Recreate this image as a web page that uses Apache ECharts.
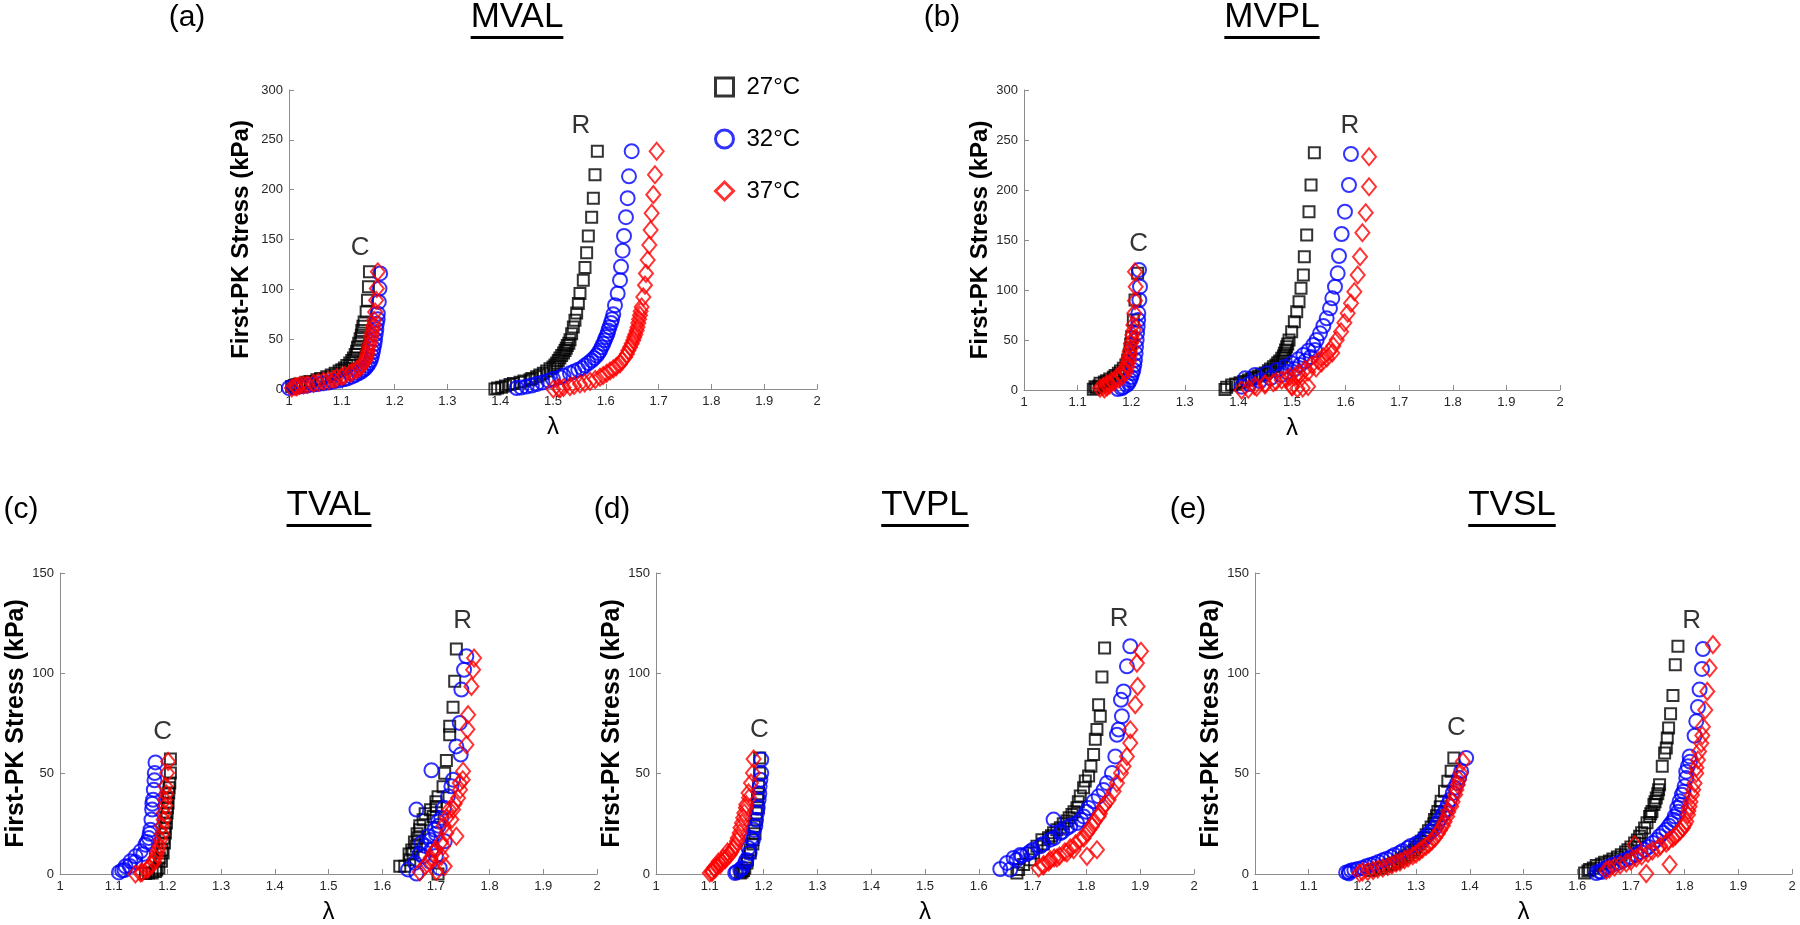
<!DOCTYPE html>
<html>
<head>
<meta charset="utf-8">
<script src="https://cdn.jsdelivr.net/npm/echarts@6/dist/echarts.min.js"></script>
<style>
  html, body { margin: 0; background: #fff; }
  #chart { width: 1800px; height: 925px; }
</style>
</head>
<body>
<div id="chart"></div>
<script>
// ---- data (lambda, first-PK stress kPa) ----
const temps = ['27°C', '32°C', '37°C']
const panelTags = ['(a)', '(b)', '(c)', '(d)', '(e)']
const panelTitles = ['MVAL', 'MVPL', 'TVAL', 'TVPL', 'TVSL']
const curveTags = ['C', 'R']
const xTickMin = 1, xTickMax = 2, xTickStep = 0.1
const yTickMax = [300, 300, 150, 150, 150]
const yTickStep = 50

const mval27 = [[1.1524,117.6],[1.1505,102.5],[1.1486,89],[1.1461,77.3],[1.1423,67.2],[1.1379,58.8],[1.1347,50.4],[1.1297,42],[1.1253,34.6],[1.1189,28.6],[1.1095,23.5],[1.1,19.2],[1.0874,15.8],[1.0716,12.4],[1.0527,9.4],[1.0337,6.7],[1.0148,4.4],[1.005,2.4],
  [1.01,3.5],[1.02,5],[1.04,7.5],[1.06,10.5],[1.08,14],[1.095,18],[1.105,21],[1.115,26],[1.122,31],[1.128,38],[1.132,46],[1.137,54],[1.14,63],
  [1.584,238.6],[1.5795,215],[1.5764,191.5],[1.5732,172.4],[1.5669,153.6],[1.5637,136.8],[1.5606,122],[1.5574,109.2],[1.5511,95.8],[1.548,85.7],[1.5448,76.3],[1.5416,68.9],[1.5385,62.2],[1.5353,55.4],[1.5322,49.4],[1.5271,43.7],[1.5227,38.6],[1.5164,33.6],[1.51,28.6],[1.5037,24.2],[1.4943,20.2],[1.4817,15.8],[1.4691,12.4],[1.4564,9.4],[1.4375,6.7],[1.4186,4.4],[1.4028,1.7],[1.39,0],
  [1.395,1],[1.41,3],[1.425,5.5],[1.445,8],[1.46,10.5],[1.475,14],[1.488,18],[1.5,22],[1.507,26],[1.513,31],[1.52,36],[1.525,41],[1.53,46]]
const mval32 = [[1.1726,116],[1.1713,100.8],[1.1701,87.4],[1.1682,75.6],[1.1663,65.5],[1.1644,55.4],[1.1619,45.4],[1.1587,37],[1.1549,29.2],[1.1486,23.5],[1.141,19.2],[1.1316,15.8],[1.1189,12.4],[1.1032,9.7],[1.0842,7.4],[1.0653,5.7],[1.0463,4.4],[1.0274,3],[1.0085,1.7],[1.0,1],
  [1.01,2],[1.02,2.5],[1.035,3.5],[1.055,5],[1.075,6.5],[1.095,8.5],[1.11,10.5],[1.125,14],[1.137,17.5],[1.145,21],[1.152,26],[1.157,33],[1.16,41],[1.163,50],[1.1655,60],[1.168,70],
  [1.649,238.6],[1.6439,213.4],[1.6414,191.5],[1.6382,172.4],[1.6345,153.6],[1.6319,138.8],[1.6288,122.6],[1.6269,109.2],[1.6225,95.8],[1.6174,84],[1.6142,74.9],[1.6098,66.2],[1.6048,58.8],[1.6004,52.1],[1.5953,45.4],[1.589,38.6],[1.5827,33.6],[1.5732,28.6],[1.5605,23.5],[1.5479,19.2],[1.5322,15.8],[1.5132,11.8],[1.4911,8.4],[1.4691,5],[1.4501,2.4],[1.4312,1],
  [1.44,1.5],[1.46,3.5],[1.48,6.5],[1.5,10],[1.52,13.5],[1.54,17.5],[1.555,21],[1.567,26],[1.578,31],[1.586,36],[1.592,42],[1.598,49],[1.603,55],[1.607,62],[1.612,70]]
const mval37 = [[1.1682,117.6],[1.1663,100.8],[1.165,89],[1.1631,77.3],[1.1612,68.9],[1.1587,60.5],[1.1556,52.1],[1.1524,43.7],[1.1486,35.3],[1.1442,28.6],[1.1379,23.5],[1.1284,19.2],[1.1158,15.8],[1.1,12.4],[1.0842,9.7],[1.0653,7.7],[1.0463,5.7],[1.0274,4],[1.0116,2.4],[1.0053,1],
  [1.015,2],[1.02,3.5],[1.035,4.5],[1.055,6.5],[1.075,8.5],[1.09,11],[1.105,13.5],[1.12,17],[1.133,21],[1.141,26],[1.147,32],[1.15,39],[1.154,47],[1.157,56],[1.16,64],
  [1.6963,238.6],[1.6931,215],[1.69,195],[1.6868,176.4],[1.6849,159.6],[1.6824,144.5],[1.6793,129.4],[1.6761,116],[1.6742,104.2],[1.6711,92.4],[1.6679,82.3],[1.6647,73.9],[1.6616,66.2],[1.6584,58.8],[1.654,52.1],[1.649,45.4],[1.6427,38.6],[1.6364,31.9],[1.6269,25.2],[1.6143,20.2],[1.6017,15.8],[1.589,11.8],[1.5701,7.7],[1.5511,5],[1.5322,2.4],[1.5132,0],[1.5006,0],
  [1.51,1],[1.52,1.5],[1.54,3.5],[1.56,6],[1.58,9.5],[1.595,13.5],[1.608,18],[1.62,22.5],[1.631,28.5],[1.64,35],[1.646,42],[1.652,49],[1.656,55],[1.66,62],[1.663,70],[1.666,78]]

const mvpl27 = [[1.212,116.7],[1.2071,90],[1.204,70],[1.2009,53.3],[1.1978,40],[1.1934,30],[1.1853,21.7],[1.176,16.7],[1.1667,12.7],[1.1542,9.3],[1.1418,6.7],[1.1324,3.3],[1.1293,0.7],
  [1.135,2],[1.14,4],[1.15,8],[1.16,11],[1.17,14.5],[1.18,19],[1.19,25],[1.196,35],[1.199,46],
  [1.5417,237.3],[1.5355,205],[1.5317,178.3],[1.5274,155],[1.523,133.3],[1.5212,115],[1.5168,101.7],[1.5131,88.3],[1.5088,78.3],[1.5044,68.3],[1.4994,58.3],[1.4945,50],[1.4901,43.3],[1.4858,36.7],[1.4808,31.7],[1.4734,27.3],[1.4653,23.3],[1.4559,19.3],[1.4435,15.7],[1.431,12.7],[1.4187,10],[1.403,7.3],[1.3874,5],[1.3781,2.7],[1.375,0.5],
  [1.395,6],[1.41,8.5],[1.425,11.5],[1.438,14],[1.45,17],[1.46,21],[1.47,25],[1.477,29],[1.484,34],[1.488,40],[1.492,46]]
const mvpl32 = [[1.2146,120],[1.2164,103.3],[1.2152,90],[1.2133,76.7],[1.2121,63.3],[1.2102,50],[1.2083,36.7],[1.2058,25],[1.2021,16.7],[1.1978,10],[1.1916,5],[1.1822,1.7],
  [1.175,1],[1.185,3],[1.195,7],[1.2,13],[1.204,20],[1.207,30],[1.209,43],[1.211,57],[1.213,70],
  [1.61,236],[1.6063,205],[1.5988,178.3],[1.5926,156],[1.5877,134],[1.5852,116.7],[1.5802,103.3],[1.5752,91.7],[1.5709,81.7],[1.5647,71.7],[1.5585,64],[1.5522,56.7],[1.546,50],[1.5398,45],[1.5305,39.3],[1.5212,35],[1.5118,30.7],[1.4994,26.7],[1.487,23.3],[1.4714,20],[1.4527,16.7],[1.431,15],[1.4125,11.7],[1.4062,3.3],
  [1.42,6],[1.44,9],[1.46,12],[1.48,15],[1.49,18],[1.505,21],[1.515,25],[1.525,29],[1.535,33],[1.543,40]]
const mvpl37 = [[1.2071,118.3],[1.2083,103.3],[1.2071,89.3],[1.2058,76.7],[1.204,65],[1.2021,55],[1.1996,46.7],[1.1971,38.3],[1.1947,31.7],[1.1915,26],[1.1872,20.7],[1.181,16.7],[1.1729,12.7],[1.1636,9.3],[1.1542,6],[1.148,3.3],[1.1418,1.7],
  [1.15,1],[1.155,3],[1.16,5],[1.168,8],[1.177,11],[1.184,14],[1.19,18],[1.193,23],[1.196,29],[1.198,35],[1.2,42],[1.203,50],[1.205,60],
  [1.6437,233.3],[1.6437,203.3],[1.6375,177.3],[1.6313,157.3],[1.6269,133.3],[1.6225,115],[1.6163,98.3],[1.6101,86.7],[1.6039,76.7],[1.5977,67.3],[1.5915,58.3],[1.5834,50],[1.5771,44],[1.569,38.3],[1.5585,33.3],[1.5491,29.3],[1.5367,25],[1.5243,20.7],[1.5118,16.7],[1.4963,13.3],[1.4807,10],[1.4652,7.3],[1.4496,5],[1.4341,2.7],[1.4185,0.7],[1.406,0],[1.52,2],[1.5,4],
  [1.43,4],[1.45,6.5],[1.47,8.5],[1.49,11],[1.505,13],[1.515,15],[1.53,18],[1.545,22],[1.555,27],[1.565,32],[1.575,37],[1.5,3],[1.51,1.5],[1.53,3.5]]

const tval27 = [[1.2056,57.3],[1.2056,50.3],[1.2044,45.3],[1.2025,40.4],[1.2013,35.4],[1.1994,30.4],[1.1982,25.4],[1.1963,20.4],[1.1945,15.4],[1.192,10.5],[1.1889,6.3],[1.184,3],[1.1777,1.3],[1.1716,0.5],[1.159,0.2],
  [1.185,8],[1.19,12],[1.193,18],[1.195,23],[1.197,28],[1.2,33],[1.2,38],[1.203,43],[1.18,2],[1.165,0.5],
  [1.7381,112.1],[1.735,96],[1.7319,83.1],[1.7257,73.6],[1.7257,69.4],[1.7195,56.6],[1.7164,50.2],[1.7133,43.5],[1.704,38.5],[1.7009,33.7],[1.6947,28.7],[1.6761,27],[1.6699,22],[1.6668,17.9],[1.6637,13.8],[1.6575,10.5],[1.6513,7.1],[1.642,3.8],[1.6327,3.8],[1.704,0],
  [1.65,10],[1.655,12],[1.66,16],[1.665,20],[1.67,24],[1.68,30],[1.69,32],[1.7,36]]
const tval32 = [[1.1778,55.6],[1.1765,50.3],[1.1759,46.7],[1.1747,42],[1.1734,37],[1.1716,32.1],[1.1703,27.1],[1.1685,22.1],[1.1654,17.9],[1.1592,14.6],[1.15,11.3],[1.1406,8.8],[1.1313,6.3],[1.122,3.8],[1.1158,1.8],[1.1097,0.8],
  [1.12,2],[1.13,4],[1.14,6],[1.155,10],[1.162,16],[1.167,20],[1.172,35],
  [1.7567,108.5],[1.7524,101.8],[1.7474,91.9],[1.7443,75.3],[1.7381,63.6],[1.7462,59.5],[1.6917,51.7],[1.7319,47],[1.7288,43.7],[1.7226,38.7],[1.6638,32.1],[1.704,26.2],[1.6978,22.1],[1.6854,18.8],[1.6731,15.4],[1.7164,16.3],[1.6917,12.1],[1.6762,8.8],[1.6607,5.5],[1.6483,2.2],[1.6638,0.2],[1.7071,3],
  [1.67,10],[1.68,14],[1.69,17],[1.7,20],[1.705,24],[1.71,28],[1.715,33],[1.69,6],[1.7,9]]
const tval37 = [[1.2013,56.1],[1.1994,50.3],[1.1963,43.7],[1.1951,37],[1.1932,30.4],[1.1901,23.8],[1.187,17.1],[1.1827,12.1],[1.1777,8],[1.1715,4.7],[1.1622,2.2],[1.1529,0.8],[1.1405,0],
  [1.15,0.5],[1.165,3],[1.175,6],[1.18,10],[1.185,14],[1.19,20],[1.193,27],[1.196,34],[1.198,40],
  [1.7711,107.6],[1.7693,101.8],[1.7662,93.5],[1.76,79.4],[1.7587,72.1],[1.7568,64.4],[1.7506,51.2],[1.7444,45.3],[1.7413,37.9],[1.7319,32.1],[1.7288,27.1],[1.7381,18.8],[1.7195,20.4],[1.7133,13.8],[1.7102,8.8],[1.7164,3.8],[1.7009,1.3],[1.6947,10.5],[1.6885,6.3],
  [1.67,1],[1.68,4],[1.69,8],[1.7,12],[1.71,16],[1.715,24],[1.72,28],[1.725,32],[1.735,35],[1.745,42],[1.75,47]]

const tvpl27 = [[1.1926,57.8],[1.1926,50.3],[1.1907,43.7],[1.1888,37],[1.1864,30.4],[1.1827,23.8],[1.1802,17.1],[1.1752,10.5],[1.169,5.5],[1.1628,1.8],[1.1566,0.5],
  [1.16,1],[1.165,3],[1.17,7],[1.175,12],[1.18,15],[1.184,20],[1.187,27],[1.19,33],[1.19,40],
  [1.8338,112.6],[1.8289,98.2],[1.8227,84.4],[1.8258,78.6],[1.8196,72],[1.8165,67.1],[1.8134,59.5],[1.8084,53.7],[1.8041,48.8],[1.7979,46.3],[1.7948,43],[1.7886,38.9],[1.7824,33],[1.7731,29.7],[1.7638,26.4],[1.7514,23.1],[1.739,20.6],[1.7297,18.1],[1.7173,17.1],[1.7081,13.8],[1.7019,10.5],[1.6957,7.1],[1.6833,4.7],[1.674,2.2],[1.6709,0.5],
  [1.72,15],[1.735,19],[1.745,22],[1.757,25],[1.768,28],[1.777,31],[1.785,36]]
const tvpl32 = [[1.1957,57],[1.1957,50.3],[1.1926,43.7],[1.1907,37],[1.1876,30.4],[1.1845,23.8],[1.1802,17.1],[1.174,10.5],[1.1659,5.5],[1.1566,2.2],[1.1473,0.5],
  [1.15,1],[1.16,3],[1.168,7],[1.172,13],[1.177,18],[1.182,22],[1.186,27],[1.189,33],[1.192,40],[1.194,47],
  [1.8815,113.5],[1.8753,103.5],[1.8691,91],[1.8642,86.8],[1.866,78.6],[1.8599,72],[1.8568,69.4],[1.8537,58.6],[1.8475,50.3],[1.8382,45.3],[1.832,41.9],[1.8227,38.7],[1.8134,36.2],[1.8041,32.9],[1.7948,28.7],[1.7824,25.4],[1.739,27.1],[1.7638,22.9],[1.7514,20.4],[1.7328,17.1],[1.7142,13.8],[1.6957,11.1],[1.6771,9.5],[1.6647,8],[1.6523,5.5],[1.6399,2.5],[1.6585,2.2],
  [1.67,7],[1.68,9],[1.69,10],[1.7,12],[1.72,15],[1.74,18],[1.755,21],[1.77,24],[1.79,27],[1.8,31]]
const tvpl37 = [[1.1814,57.3],[1.1802,50.3],[1.1765,45.3],[1.1721,40.4],[1.1678,34.6],[1.1641,30.4],[1.1597,25.4],[1.1554,20.4],[1.1504,16.3],[1.1442,12.9],[1.1368,9.6],[1.1287,7.1],[1.1195,4.7],[1.1102,2.5],[1.104,0.8],
  [1.1,0.5],[1.105,1.5],[1.108,3],[1.113,4],[1.116,6],[1.122,6],[1.125,8],[1.13,8],[1.133,11],[1.14,11],[1.147,14],[1.152,18],[1.157,23],[1.162,28],[1.167,33],[1.173,38],
  [1.9014,111],[1.8939,105.1],[1.8952,93.5],[1.8908,84.4],[1.8815,71.9],[1.8815,65.3],[1.8753,58.6],[1.8691,53.7],[1.8642,50.3],[1.8568,45.3],[1.8506,41.2],[1.8413,37],[1.832,33.7],[1.8227,28.7],[1.8103,23.8],[1.801,20.4],[1.7886,17.1],[1.8196,12.1],[1.801,8.8],[1.7762,12.1],[1.7638,10.5],[1.7452,8],[1.7328,7.1],[1.7204,4.7],[1.7112,3],
  [1.72,4],[1.73,6],[1.74,8],[1.75,9],[1.76,11],[1.77,13],[1.78,15],[1.795,18],[1.805,22],[1.815,26],[1.825,30],[1.835,35]]

const tvsl27 = [[1.3703,57.8],[1.3653,51.2],[1.3591,46.2],[1.3529,41.2],[1.3467,36.2],[1.3405,31.2],[1.3343,27.1],[1.328,23.4],[1.3187,19.6],[1.3094,16.3],[1.3001,13.5],[1.2908,10.8],[1.2784,8.5],[1.266,6.3],[1.2536,4.7],[1.235,3],[1.2164,1.8],
  [1.225,2.5],[1.245,4],[1.26,5.5],[1.272,7.5],[1.285,9.5],[1.297,12],[1.305,15],[1.315,18],[1.323,21.5],[1.333,25],[1.338,29],[1.345,33.5],
  [1.7876,113.5],[1.7826,104.3],[1.7783,88.9],[1.7739,79.9],[1.7702,72.8],[1.7677,67.8],[1.7659,62.8],[1.7628,60.3],[1.7584,53.7],[1.7534,44.5],[1.7516,42],[1.7472,37.9],[1.7429,34.6],[1.7392,31.2],[1.7348,28.7],[1.7255,22.9],[1.7162,18.8],[1.7069,15.4],[1.6945,12.1],[1.682,9.6],[1.6665,7.5],[1.651,5.8],[1.6355,4.2],[1.6231,2.2],[1.6138,0.5],
  [1.62,1.5],[1.63,3],[1.645,5],[1.66,6.5],[1.675,8.5],[1.69,11],[1.7,13.5],[1.712,17],[1.72,20.5],[1.73,25.5],[1.737,30],[1.745,36],[1.75,40]]
const tvsl32 = [[1.3932,57.8],[1.3839,51.2],[1.3765,45.4],[1.3684,40.4],[1.3591,34.6],[1.3498,29.6],[1.3405,25.4],[1.328,21.3],[1.3156,18],[1.3001,15.1],[1.2846,13],[1.2691,10.5],[1.2536,8.5],[1.2381,6.8],[1.2225,5.1],[1.207,3.8],[1.1915,2.5],[1.1791,1.7],[1.1698,0.8],[1.175,0.3],
  [1.175,1],[1.185,2],[1.2,3],[1.215,4.5],[1.23,6],[1.245,7.5],[1.26,9.5],[1.275,11.5],[1.29,14],[1.31,16.5],[1.322,19.5],[1.335,23],[1.345,27.5],[1.355,32],[1.363,37],[1.372,43],[1.38,48],
  [1.8341,112.1],[1.8323,102.2],[1.8279,91.9],[1.8248,83.2],[1.8217,76.1],[1.8186,68.9],[1.8093,58.6],[1.8062,53.7],[1.8031,47.8],[1.8,43.7],[1.795,39.5],[1.7907,36.2],[1.7863,32.9],[1.7814,28.7],[1.7752,25.4],[1.7659,22.1],[1.7534,18.8],[1.741,15.4],[1.7255,12.1],[1.71,9.6],[1.6945,7.5],[1.6759,5.5],[1.6572,3.5],[1.6417,1.3],[1.6355,0.5],
  [1.645,1],[1.65,2.5],[1.665,4.5],[1.685,6.5],[1.7,8.5],[1.718,11],[1.733,13.5],[1.748,17],[1.76,20.5],[1.771,24],[1.78,27],[1.788,31],[1.793,34.5],[1.798,41],[1.803,51],[1.81,56]]
const tvsl37 = [[1.387,56.1],[1.3827,50.3],[1.3777,44.5],[1.3727,39.5],[1.3653,33.7],[1.3578,28.7],[1.3498,24.1],[1.3405,20.1],[1.3293,16.4],[1.3187,13.8],[1.3063,11.3],[1.2939,9.1],[1.2784,7.1],[1.2629,5.5],[1.2474,3.8],[1.2287,2.5],[1.2101,1.3],[1.1946,0.5],
  [1.2,1],[1.22,1.8],[1.238,3],[1.255,4.5],[1.27,6],[1.285,8],[1.3,10],[1.312,12.5],[1.324,15],[1.335,18],[1.345,22],[1.353,26],[1.36,31],[1.368,36],[1.375,42],[1.38,47],
  [1.8528,114.3],[1.8466,102.7],[1.8422,91],[1.8385,81.7],[1.8341,73.4],[1.831,65.1],[1.8248,56.8],[1.8217,50.2],[1.8186,45.2],[1.8137,39.4],[1.8093,33.6],[1.8062,29.5],[1.8031,26.2],[1.7969,22.9],[1.7876,20.4],[1.7783,17.9],[1.7659,15.4],[1.7503,12.8],[1.7317,10.3],[1.71,8],[1.6914,5.5],[1.6696,3.5],[1.6541,1.8],[1.7069,14.6],[1.7721,4.7],[1.7286,0.2],
  [1.66,2.5],[1.68,4.5],[1.7,6.5],[1.72,9],[1.74,11.5],[1.755,14],[1.77,16.5],[1.783,19],[1.792,21.5],[1.8,24.5],[1.807,31.5],[1.811,36],[1.816,42],[1.822,53],[1.827,61],[1.833,69]]

// where the "C" and "R" tags sit, in data units
const tagPos = [
  [[1.1345, 142], [1.553, 264]],
  [[1.214, 146], [1.608, 264]],
  [[1.191, 71], [1.75, 126]],
  [[1.192, 72], [1.861, 127]],
  [[1.375, 73], [1.813, 126]]
]

const panelData = [
  [mval27, mval32, mval37],
  [mvpl27, mvpl32, mvpl37],
  [tval27, tval32, tval37],
  [tvpl27, tvpl32, tvpl37],
  [tvsl27, tvsl32, tvsl37]
]

// ---- layout / style ----
const font = "'Liberation Sans', Arial, sans-serif"
const colors = ['#000000', '#0000ff', '#ff0000']
const symbols = ['rect', 'circle', 'diamond']
const symSizes = [11, 14, [14, 17]]
const grids = [
  { left: 289, top: 90, width: 528, height: 299 },
  { left: 1024, top: 90, width: 536, height: 300 },
  { left: 60, top: 573, width: 537, height: 301 },
  { left: 656, top: 573, width: 538, height: 301 },
  { left: 1255, top: 573, width: 537, height: 301 }
]
const yNameGap = [36, 32, 28, 30, 30]
const yNameSize = [24, 24, 25, 25, 25]
const titlePos = [[517, 20], [1272, 20], [329, 508], [925, 508], [1512, 508]]
const tagTextPos = [[187, 20], [942, 20], [21, 512], [612, 512], [1188, 512]]
const axisGray = '#8c8c8c'

const measure = document.createElement('canvas').getContext('2d')
function textWidth(txt, size) {
  measure.font = size + 'px ' + font
  return measure.measureText(txt).width
}

const xAxes = [], yAxes = [], series = [], graphics = []
grids.forEach((g, i) => {
  xAxes.push({
    type: 'value', gridIndex: i, min: xTickMin, max: xTickMax, interval: xTickStep,
    name: 'λ', nameLocation: 'middle', nameGap: 26,
    nameTextStyle: { fontSize: 24, color: '#000', fontFamily: font },
    axisLine: { lineStyle: { color: axisGray, width: 1 } },
    axisTick: { inside: true, length: 5, lineStyle: { color: axisGray } },
    axisLabel: { fontSize: 13, color: '#262626', fontFamily: font, margin: 6 },
    splitLine: { show: false }
  })
  yAxes.push({
    type: 'value', gridIndex: i, min: 0, max: yTickMax[i], interval: yTickStep,
    name: 'First-PK Stress (kPa)', nameLocation: 'middle', nameGap: yNameGap[i],
    nameTextStyle: { fontSize: yNameSize[i], fontWeight: 'bold', color: '#000', fontFamily: font },
    axisLine: { show: true, lineStyle: { color: axisGray, width: 1 } },
    axisTick: { show: true, inside: true, length: 5, lineStyle: { color: axisGray } },
    axisLabel: { fontSize: 13, color: '#262626', fontFamily: font, margin: 6 },
    splitLine: { show: false }
  })
  panelData[i].forEach((pts, k) => {
    series.push({
      name: temps[k], type: 'scatter', xAxisIndex: i, yAxisIndex: i,
      symbol: symbols[k], symbolSize: symSizes[k],
      itemStyle: { color: 'rgba(0,0,0,0)', borderColor: colors[k], borderWidth: 2 },
      data: pts, silent: true, animation: false
    })
  })
  series.push({
    type: 'scatter', xAxisIndex: i, yAxisIndex: i, symbolSize: 1, silent: true, animation: false,
    itemStyle: { color: 'rgba(0,0,0,0)' },
    data: tagPos[i].map((p, k) => ({ name: curveTags[k], value: p })),
    label: { show: true, position: 'inside', formatter: '{b}', fontSize: 26, color: '#000', fontFamily: font }
  })

  // panel title with underline, and panel letter
  const tw = textWidth(panelTitles[i], 35)
  const [tx, ty] = titlePos[i]
  graphics.push({
    type: 'text', left: tx - tw / 2, top: ty - 20,
    style: { text: panelTitles[i], fontSize: 35, fontFamily: font, fill: '#000' }
  })
  graphics.push({
    type: 'line', shape: { x1: tx - tw / 2, y1: ty + 17.5, x2: tx + tw / 2, y2: ty + 17.5 },
    style: { stroke: '#000', lineWidth: 3 }
  })
  const lw = textWidth(panelTags[i], 30)
  graphics.push({
    type: 'text', left: tagTextPos[i][0] - lw / 2, top: tagTextPos[i][1] - 17,
    style: { text: panelTags[i], fontSize: 30, fontFamily: font, fill: '#000' }
  })
})

const chart = echarts.init(document.getElementById('chart'), null, { renderer: 'canvas' })
chart.setOption({
  backgroundColor: '#fff',
  animation: false,
  grid: grids,
  xAxis: xAxes,
  yAxis: yAxes,
  legend: {
    data: temps, orient: 'vertical', left: 709, top: 70,
    itemWidth: 18, itemHeight: 18, itemGap: 28, selectedMode: false,
    itemStyle: { borderWidth: 3 },
    textStyle: { fontSize: 24, color: '#000', fontFamily: font, padding: [0, 0, 0, 8] }
  },
  graphic: graphics,
  series: series
})
</script>
</body>
</html>
